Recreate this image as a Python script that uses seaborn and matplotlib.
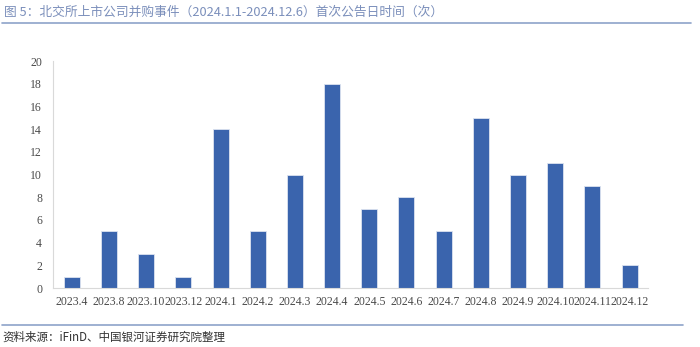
import matplotlib
matplotlib.use("Agg")
import matplotlib.pyplot as plt
import seaborn as sns
import pandas as pd

categories = ["2023.4", "2023.8", "2023.10", "2023.12", "2024.1", "2024.2", "2024.3", "2024.4",
              "2024.5", "2024.6", "2024.7", "2024.8", "2024.9", "2024.10", "2024.11", "2024.12"]
counts = [1, 5, 3, 1, 14, 5, 10, 18, 7, 8, 5, 15, 10, 11, 9, 2]
y_ticks = [0, 2, 4, 6, 8, 10, 12, 14, 16, 18, 20]

title = "图 5：北交所上市公司并购事件（2024.1.1-2024.12.6）首次公告日时间（次）"
source = "资料来源：iFinD、中国银河证券研究院整理"

sns.set_theme(style="white")
plt.rcParams['font.family'] = ['Noto Sans CJK SC', 'DejaVu Sans']

df = pd.DataFrame({"month": categories, "count": counts})

fig = plt.figure(figsize=(7.0, 3.47), dpi=100)
ax = fig.add_axes([0.076, 0.170, 0.850, 0.654])

sns.barplot(data=df, x="month", y="count", color="#3A64AD", width=0.43,
            saturation=1, edgecolor="#DCE3F0", linewidth=0.6, ax=ax)

ax.set_ylim(0, 20)
ax.set_yticks(y_ticks)
ax.set_xlim(-0.5, len(categories) - 0.5)
ax.set_xlabel("")
ax.set_ylabel("")
for s in ["top", "right"]:
    ax.spines[s].set_visible(False)
for s in ["left", "bottom"]:
    ax.spines[s].set_color("#D9D9D9")
    ax.spines[s].set_linewidth(0.8)
ax.tick_params(axis="both", length=0, labelsize=8.5, colors="#4A4A4A",
               labelfontfamily="Liberation Serif")
ax.tick_params(axis="x", pad=6)
ax.tick_params(axis="y", pad=8)

fig.text(0.006, 0.965, title, fontsize=9.2, color="#7B8FBB", ha="left", va="center")
fig.add_artist(plt.Line2D([0.003, 0.987], [0.933, 0.933], color="#8EA3C9", linewidth=1.2))
fig.add_artist(plt.Line2D([0.003, 0.976], [0.063, 0.063], color="#8EA3C9", linewidth=1.2))
fig.text(0.004, 0.028, source, fontsize=8.3, color="#333333", ha="left", va="center",
         style="italic")

fig.savefig("out.png", dpi=100)
